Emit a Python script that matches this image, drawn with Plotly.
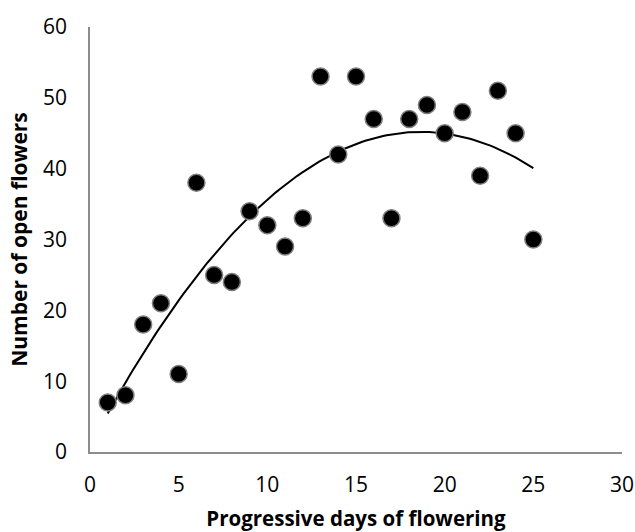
import numpy as np
import plotly.graph_objects as go

days = [1, 2, 3, 4, 5, 6, 7, 8, 9, 10, 11, 12, 13, 14, 15, 16, 17, 18, 19, 20, 21, 22, 23, 24, 25]
open_flowers = [7, 8, 18, 21, 11, 38, 25, 24, 34, 32, 29, 33, 53, 42, 53, 47, 33, 47, 49, 45, 48, 39, 51, 45, 30]

x_ticks = [0, 5, 10, 15, 20, 25, 30]
y_ticks = [0, 10, 20, 30, 40, 50, 60]

# Second-order polynomial trendline fitted to the data (as in the original spreadsheet chart)
coef = np.polyfit(days, open_flowers, 2)
trend_x = np.linspace(min(days), max(days), 120)
trend_y = np.polyval(coef, trend_x)

FONT = "Open Sans"

fig = go.Figure()
fig.add_trace(go.Scatter(
    x=trend_x, y=trend_y, mode="lines",
    line=dict(color="black", width=2),
    showlegend=False, hoverinfo="skip",
))
fig.add_trace(go.Scatter(
    x=days, y=open_flowers, mode="markers",
    marker=dict(size=17, color="black", line=dict(color="#7f7f7f", width=1.5)),
    showlegend=False,
))

fig.update_layout(
    width=635, height=532,
    margin=dict(l=90, r=13, t=27, b=80),
    paper_bgcolor="white", plot_bgcolor="white",
    font=dict(family=FONT, color="black", size=21),
)
fig.update_xaxes(
    range=[0, 30], tickvals=x_ticks, ticktext=[str(v) for v in x_ticks],
    showgrid=False, zeroline=False, showline=True, linecolor="#8c8c8c", linewidth=1.5,
    ticks="", ticklabelstandoff=13, automargin=False,
    tickfont=dict(size=21, family=FONT, color="black"),
    title=dict(text="<b>Progressive days of flowering</b>", font=dict(size=20.5, family=FONT), standoff=17),
)
fig.update_yaxes(
    range=[0, 60], tickvals=y_ticks, ticktext=[str(v) for v in y_ticks],
    showgrid=False, zeroline=False, showline=True, linecolor="#8c8c8c", linewidth=1.5,
    ticks="", ticklabelstandoff=17, automargin=False,
    tickfont=dict(size=21, family=FONT, color="black"),
    title=dict(text="<b>Number of open flowers</b>", font=dict(size=21, family=FONT), standoff=10),
)

fig.write_html(
    "out.html",
    config={"displayModeBar": False},
    post_script="document.body.style.margin='0';document.body.style.overflow='hidden';",
)
